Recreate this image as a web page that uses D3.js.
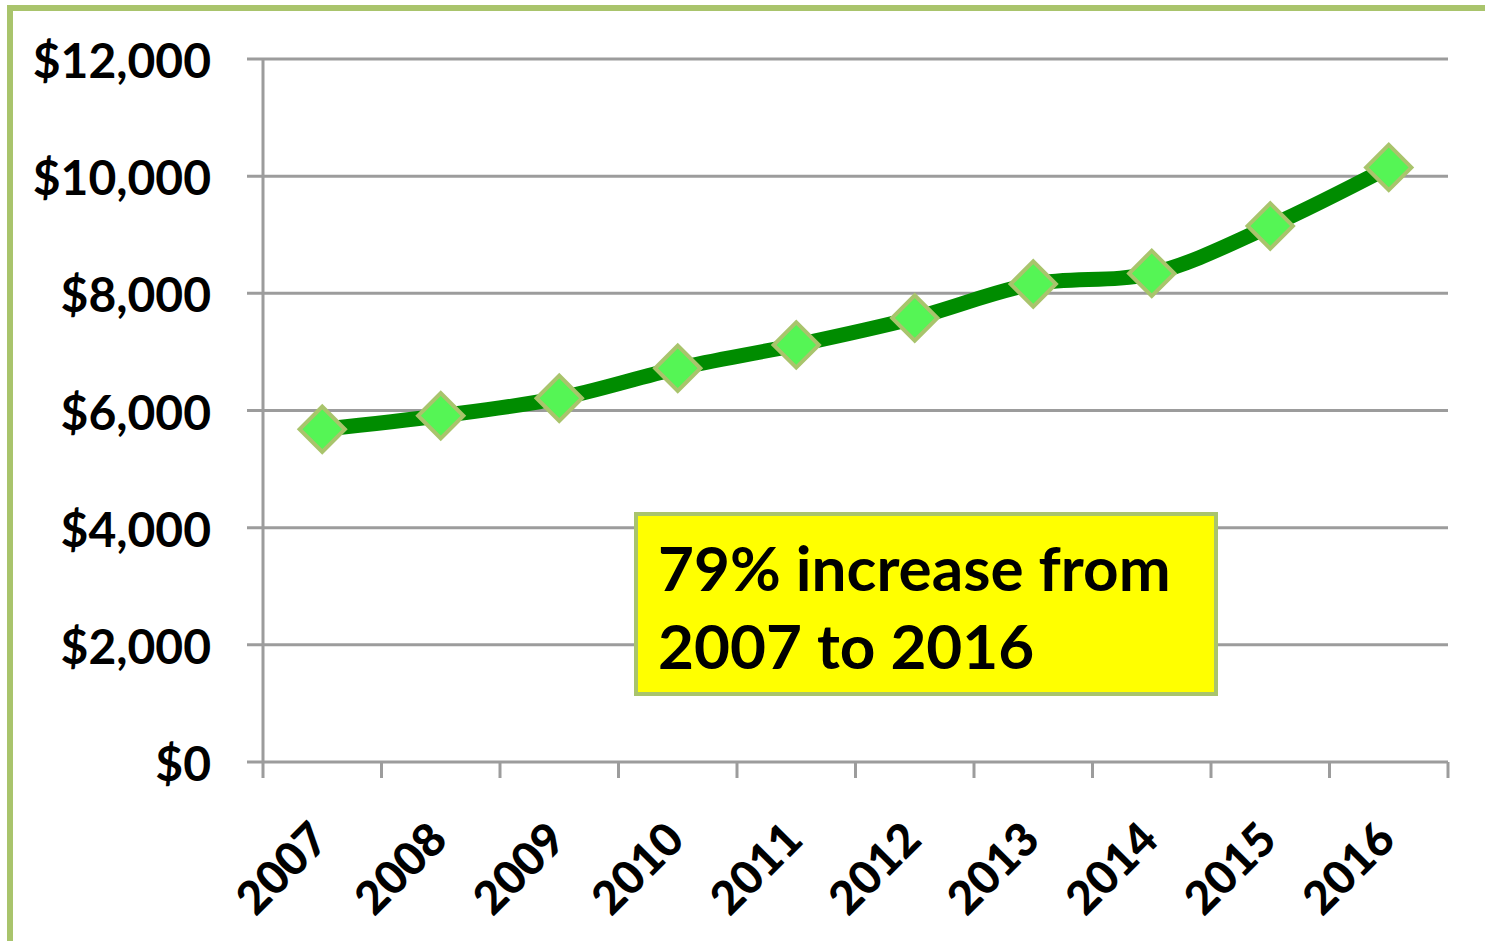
<!DOCTYPE html>
<html>
<head>
<meta charset="utf-8">
<script src="https://cdn.jsdelivr.net/npm/d3@7"></script>
<style>
  html, body { margin: 0; padding: 0; background: #fff; }
  svg { display: block; }
  text { font-family: Lato, "Open Sans", sans-serif; font-weight: 700; fill: #000; }
</style>
</head>
<body>
<svg id="chart" width="1485" height="941"></svg>
<script>
// ---- data ----
const years = ["2007","2008","2009","2010","2011","2012","2013","2014","2015","2016"];
const values = [5680, 5910, 6210, 6720, 7120, 7580, 8160, 8340, 9150, 10150];
const yTicks = [0, 2000, 4000, 6000, 8000, 10000, 12000];
const annotationLines = ["79% increase from", "2007 to 2016"];

// ---- layout ----
const svg = d3.select("#chart");
const W = 1485, H = 941;
const plot = { left: 263, right: 1448, top: 59, bottom: 762 };
const frameColor = "#A9C46C";
const gridColor = "#9C9C9C";

// frame (only left/top visible)
svg.append("rect")
  .attr("x", 10).attr("y", 8)
  .attr("width", W + 40).attr("height", H + 40)
  .attr("fill", "none")
  .attr("stroke", frameColor)
  .attr("stroke-width", 6);

const x = d3.scaleBand().domain(years).range([plot.left, plot.right]).paddingInner(0).paddingOuter(0);
const y = d3.scaleLinear().domain([0, 12000]).range([plot.bottom, plot.top]);
const fmt = v => "$" + d3.format(",")(v);

// gridlines + y labels
const g = svg.append("g");
g.selectAll("line.grid").data(yTicks).enter().append("line")
  .attr("class", "grid")
  .attr("x1", plot.left - 16).attr("x2", plot.right)
  .attr("y1", d => y(d)).attr("y2", d => y(d))
  .attr("stroke", gridColor).attr("stroke-width", 3);

g.selectAll("text.ylab").data(yTicks).enter().append("text")
  .attr("class", "ylab")
  .attr("x", 211)
  .attr("y", d => y(d) + 19)
  .attr("text-anchor", "end")
  .style("font-size", "48px")
  .text(fmt);

// y axis line
g.append("line")
  .attr("x1", plot.left).attr("x2", plot.left)
  .attr("y1", plot.top).attr("y2", plot.bottom + 16)
  .attr("stroke", gridColor).attr("stroke-width", 3);

// x ticks at category boundaries
const edges = years.map(d => x(d)).concat([x(years[years.length - 1]) + x.bandwidth()]);
g.selectAll("line.xtick").data(edges.slice(1)).enter().append("line")
  .attr("class", "xtick")
  .attr("x1", d => d).attr("x2", d => d)
  .attr("y1", plot.bottom).attr("y2", plot.bottom + 16)
  .attr("stroke", gridColor).attr("stroke-width", 3);

// x labels
g.selectAll("text.xlab").data(years).enter().append("text")
  .attr("class", "xlab")
  .attr("text-anchor", "end")
  .attr("transform", d => `translate(${x(d) + x.bandwidth() / 2 + 9},${842}) rotate(-45)`)
  .style("font-size", "46px")
  .style("font-weight", 900)
  .text(d => d);

// line
const pts = years.map((d, i) => [x(d) + x.bandwidth() / 2, y(values[i])]);
svg.append("path")
  .attr("d", d3.line().curve(d3.curveCatmullRom.alpha(0.5))(pts))
  .attr("fill", "none")
  .attr("stroke", "#008C00")
  .attr("stroke-width", 15)
  .attr("stroke-linejoin", "round");

// diamond markers
const diamond = d3.symbol().type(d3.symbolSquare).size(32 * 32);
svg.selectAll("path.marker").data(pts).enter().append("path")
  .attr("class", "marker")
  .attr("d", diamond)
  .attr("transform", d => `translate(${d[0]},${d[1]}) rotate(45)`)
  .attr("fill", "#55F555")
  .attr("stroke", frameColor)
  .attr("stroke-width", 4);

// annotation box
const ann = svg.append("g");
ann.append("rect")
  .attr("x", 636).attr("y", 514)
  .attr("width", 580).attr("height", 180)
  .attr("fill", "#FFFF00")
  .attr("stroke", frameColor)
  .attr("stroke-width", 4);
ann.selectAll("text").data(annotationLines).enter().append("text")
  .attr("x", 658)
  .attr("y", (d, i) => 591 + i * 78)
  .style("font-size", "62px")
  .text(d => d);
</script>
</body>
</html>
